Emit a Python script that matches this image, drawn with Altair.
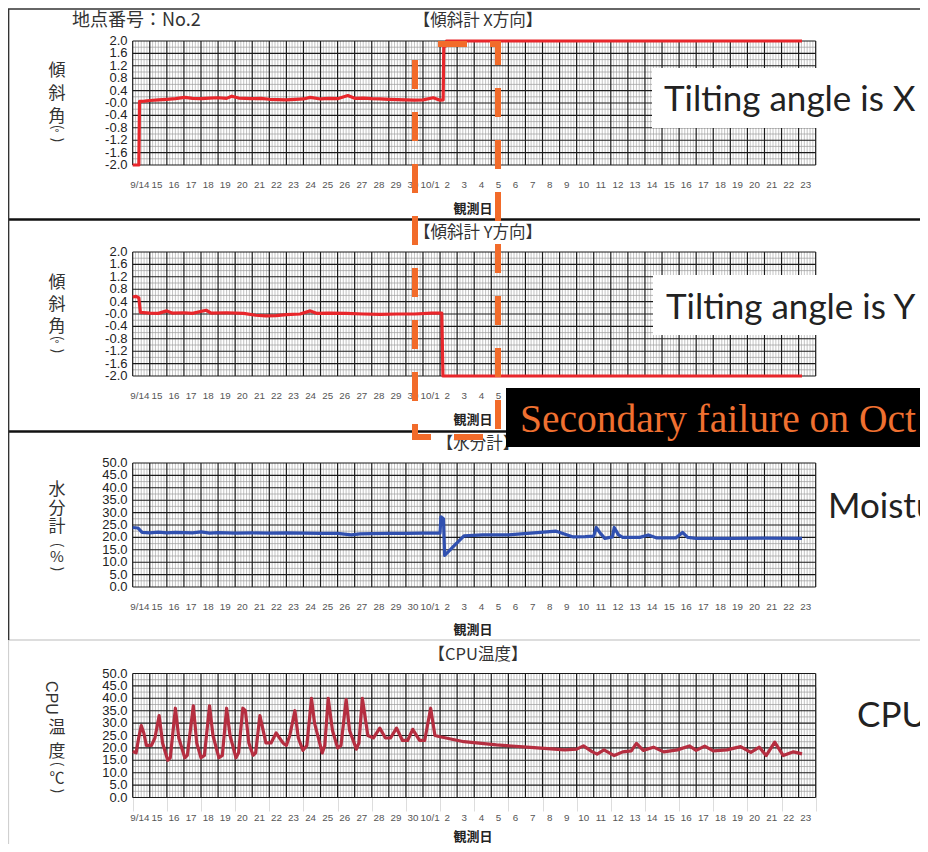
import altair as alt
import pandas as pd

# ---------------- data ----------------
DAY_LABELS = (["9/14"] + [str(d) for d in range(15, 31)] + ["10/1"]
              + [str(d) for d in range(2, 24)])

TILT_TICKS = [2.0, 1.6, 1.2, 0.8, 0.4, 0.0, -0.4, -0.8, -1.2, -1.6, -2.0]
TILT_LABELS = ["2.0", "1.6", "1.2", "0.8", "0.4", "-0.0", "-0.4", "-0.8", "-1.2", "-1.6", "-2.0"]
PCT_TICKS = [50, 45, 40, 35, 30, 25, 20, 15, 10, 5, 0]
PCT_LABELS = ["50.0", "45.0", "40.0", "35.0", "30.0", "25.0", "20.0", "15.0", "10.0", "5.0", "0.0"]

# (day offset from 9/14 00:00, value)
X_TILT = [(0.0, -2.0), (0.36, -2.0), (0.40, 0.05), (0.7, 0.06), (1.0, 0.08), (1.5, 0.10),
          (2.0, 0.12), (2.5, 0.14), (3.05, 0.18), (3.5, 0.15), (4.0, 0.14), (4.5, 0.16),
          (5.0, 0.17), (5.5, 0.15), (5.8, 0.22), (6.2, 0.16), (7.0, 0.14), (7.5, 0.15),
          (8.0, 0.12), (8.5, 0.11), (9.0, 0.10), (9.5, 0.12), (10.0, 0.13), (10.4, 0.18),
          (11.0, 0.13), (11.5, 0.15), (12.0, 0.14), (12.6, 0.24), (13.0, 0.15), (13.5, 0.16),
          (14.0, 0.14), (14.5, 0.13), (15.0, 0.12), (15.5, 0.11), (16.0, 0.10), (16.5, 0.09),
          (17.0, 0.10), (17.6, 0.17), (18.0, 0.09), (18.18, 0.10), (18.22, 1.82), (18.33, 1.84),
          (18.38, 2.0), (25.0, 2.0), (32.0, 2.0), (39.2, 2.0)]

Y_TILT = [(0.0, 0.55), (0.2, 0.57), (0.36, 0.52), (0.45, 0.05), (1.0, 0.03), (1.5, 0.02),
          (2.0, 0.10), (2.3, 0.03), (3.0, 0.04), (3.5, 0.02), (4.3, 0.12), (4.6, 0.03),
          (5.5, 0.04), (6.5, 0.02), (7.2, -0.04), (7.8, -0.06), (8.4, -0.05), (9.0, -0.02),
          (9.8, 0.0), (10.4, 0.10), (10.8, 0.02), (11.5, 0.03), (12.5, 0.02), (13.5, 0.0),
          (14.5, -0.01), (15.5, 0.0), (16.5, 0.0), (17.5, 0.03), (18.1, 0.03), (18.17, -2.0),
          (39.2, -2.0)]

MOISTURE = [(0.0, 24.0), (0.3, 23.8), (0.55, 22.0), (1.0, 21.8), (1.5, 22.1), (2.0, 21.8),
            (2.5, 22.0), (3.0, 21.9), (3.5, 21.8), (4.0, 22.2), (4.5, 21.7), (5.0, 21.9),
            (5.5, 21.8), (6.0, 21.7), (7.0, 21.8), (8.0, 21.7), (9.0, 21.8), (10.0, 21.7),
            (11.0, 21.6), (12.0, 21.6), (12.8, 21.0), (13.3, 21.4), (14.0, 21.5), (15.0, 21.6),
            (16.0, 21.6), (17.0, 21.7), (18.0, 21.7), (18.05, 28.3), (18.2, 27.5), (18.27, 12.7),
            (18.8, 16.5), (19.4, 20.6), (20.5, 21.0), (22.0, 21.0), (23.5, 21.8), (24.8, 22.5),
            (25.8, 20.2), (26.5, 20.3), (27.0, 20.5), (27.15, 24.0), (27.35, 22.0), (27.65, 19.6),
            (28.1, 20.2), (28.2, 24.0), (28.45, 21.0), (28.7, 20.0), (29.7, 20.0), (30.2, 21.0),
            (30.7, 19.8), (31.8, 19.8), (32.2, 22.0), (32.5, 20.0), (33.0, 19.6), (35.0, 19.6),
            (37.0, 19.7), (39.2, 19.6)]

CPU_TEMP = [(0.0, 18.5), (0.2, 18.0), (0.35, 24.0), (0.5, 29.0), (0.65, 26.0), (0.8, 21.0),
            (1.1, 21.0), (1.3, 24.0), (1.55, 33.0), (1.75, 22.0), (2.05, 15.0), (2.2, 16.0),
            (2.5, 36.0), (2.7, 24.0), (3.05, 16.0), (3.2, 17.0), (3.55, 37.0), (3.75, 22.0),
            (4.0, 16.0), (4.2, 17.0), (4.5, 37.0), (4.7, 25.0), (5.05, 16.0), (5.25, 17.0),
            (5.5, 36.0), (5.7, 25.0), (6.05, 16.0), (6.2, 18.0), (6.45, 36.0), (6.6, 35.0),
            (6.8, 22.0), (7.05, 17.0), (7.2, 18.0), (7.45, 33.0), (7.8, 22.0), (8.1, 22.0),
            (8.4, 26.0), (8.8, 22.0), (9.0, 21.0), (9.2, 25.0), (9.5, 35.0), (9.7, 24.0),
            (9.97, 19.0), (10.2, 21.0), (10.47, 40.0), (10.65, 30.0), (11.1, 18.0), (11.25, 21.0),
            (11.45, 40.0), (11.7, 27.0), (12.0, 20.0), (12.2, 21.0), (12.5, 39.5), (12.7, 27.0),
            (13.1, 19.5), (13.25, 22.0), (13.45, 40.0), (13.77, 25.0), (14.1, 24.0), (14.47, 28.0),
            (14.8, 24.0), (15.1, 24.0), (15.45, 28.0), (15.8, 23.0), (16.1, 23.0), (16.4, 27.5),
            (16.8, 23.0), (17.1, 23.0), (17.45, 36.0), (17.7, 25.0), (18.0, 24.5), (19.4, 22.5),
            (21.3, 21.2), (23.3, 20.2), (25.3, 19.2), (26.0, 19.5), (26.4, 20.8), (26.9, 18.5),
            (27.2, 17.5), (27.6, 19.2), (28.2, 16.9), (28.7, 18.4), (29.2, 18.8), (29.5, 21.8),
            (29.9, 19.0), (30.5, 20.3), (31.1, 18.4), (31.9, 19.2), (32.6, 20.8), (33.0, 19.0),
            (33.5, 20.7), (34.0, 18.8), (34.8, 19.2), (35.6, 20.5), (36.2, 18.2), (36.7, 20.3),
            (37.1, 16.9), (37.6, 22.3), (38.1, 16.9), (38.7, 18.4), (39.2, 17.6)]

# ---------------- layout ----------------
OFF = 8
def px(v):
    return v - OFF

JP = "Noto Sans CJK JP"
NUM = "Liberation Sans"
LAT = "Lato"

NDAYS = len(DAY_LABELS)
XS = alt.Scale(domain=[0, NDAYS], range=[px(132.7), px(815.7)], nice=False, zero=False)

PANELS = [
    dict(top=41, bot=165, ticks=TILT_TICKS, labels=TILT_LABELS, series=X_TILT, color="#E8262B",
         title="【傾斜計 X方向】", title_y=21, xlab_y=185, obs_y=209, lab_max=NDAYS),
    dict(top=252, bot=376, ticks=TILT_TICKS, labels=TILT_LABELS, series=Y_TILT, color="#E8262B",
         title="【傾斜計 Y方向】", title_y=233, xlab_y=396, obs_y=420, lab_max=22),
    dict(top=463, bot=587, ticks=PCT_TICKS, labels=PCT_LABELS, series=MOISTURE, color="#3050B0",
         title="【水分計】", title_y=444, xlab_y=607, obs_y=630, lab_max=NDAYS),
    dict(top=673.5, bot=797.5, ticks=PCT_TICKS, labels=PCT_LABELS, series=CPU_TEMP, color="#B52E40",
         title="【CPU温度】", title_y=655, xlab_y=818, obs_y=837, lab_max=NDAYS),
]

one = pd.DataFrame({"a": [0]})


def txt(s, x, y, size, font=JP, color="#222", align="center", baseline="middle", **kw):
    return alt.Chart(one).mark_text(text=s, font=font, fontSize=size, color=color,
                                    align=align, baseline=baseline, **kw).encode(
        x=alt.value(px(x)), y=alt.value(px(y)))


def box(x1, x2, y1, y2, color):
    return alt.Chart(one).mark_rect(color=color).encode(
        x=alt.value(px(x1)), x2=alt.value(px(x2)), y=alt.value(px(y1)), y2=alt.value(px(y2)))


def hline(y, x1, x2, color, w):
    return alt.Chart(one).mark_rule(color=color, strokeWidth=w).encode(
        x=alt.value(px(x1)), x2=alt.value(px(x2)), y=alt.value(px(y)))


def vline(x, y1, y2, color, w):
    return alt.Chart(one).mark_rule(color=color, strokeWidth=w).encode(
        x=alt.value(px(x)), y=alt.value(px(y1)), y2=alt.value(px(y2)))


def vtitle(kanji, top, step, paren_mid, ytop_paren, ybot_paren, mid_size=11, ksize=17):
    """Vertical (tategaki style) axis title."""
    out = []
    for i, ch in enumerate(kanji):
        out.append(txt(ch, 57, top + i * step, ksize, color="#333"))
    out.append(txt("(", 57, ytop_paren, 14, color="#333", angle=90))
    out.append(txt(paren_mid, 57, (ytop_paren + ybot_paren) / 2, mid_size, color="#333"))
    out.append(txt(")", 57, ybot_paren, 14, color="#333", angle=90))
    return out


minor_t = [d + k / 6 for d in range(NDAYS) for k in range(1, 6)]
major_t = list(range(NDAYS + 1))

layers = []
for P in PANELS:
    ticks = P["ticks"]
    lo, hi = min(ticks), max(ticks)
    ys = alt.Scale(domain=[lo, hi], range=[px(P["bot"]), px(P["top"])], nice=False, zero=False)
    mids = [(ticks[i] + ticks[i + 1]) / 2 for i in range(len(ticks) - 1)]

    layers.append(alt.Chart(pd.DataFrame({"t": minor_t})).mark_rule(color="#9c9c9c", strokeWidth=0.6).encode(
        x=alt.X("t:Q", scale=XS), y=alt.YDatum(hi, scale=ys, type="quantitative"), y2=alt.Y2Datum(lo)))
    layers.append(alt.Chart(pd.DataFrame({"v": mids})).mark_rule(color="#9c9c9c", strokeWidth=0.7).encode(
        y=alt.Y("v:Q", scale=ys), x=alt.XDatum(0, scale=XS, type="quantitative"), x2=alt.X2Datum(NDAYS)))
    layers.append(alt.Chart(pd.DataFrame({"v": ticks})).mark_rule(color="#1a1a1a", strokeWidth=1.1).encode(
        y=alt.Y("v:Q", scale=ys), x=alt.XDatum(0, scale=XS, type="quantitative"), x2=alt.X2Datum(NDAYS)))
    layers.append(alt.Chart(pd.DataFrame({"t": major_t})).mark_rule(color="#1a1a1a", strokeWidth=1.2).encode(
        x=alt.X("t:Q", scale=XS), y=alt.YDatum(hi, scale=ys, type="quantitative"), y2=alt.Y2Datum(lo)))
    sdf = pd.DataFrame(P["series"], columns=["t", "v"])
    layers.append(alt.Chart(sdf).mark_line(color=P["color"], strokeWidth=3.2, strokeJoin="round").encode(
        x=alt.X("t:Q", scale=XS), y=alt.Y("v:Q", scale=ys)))
    ldf = pd.DataFrame({"v": ticks, "lab": P["labels"]})
    layers.append(alt.Chart(ldf).mark_text(align="right", baseline="middle", font=NUM, fontSize=13,
                                           color="#222").encode(
        y=alt.Y("v:Q", scale=ys), x=alt.value(px(127.5)), text="lab:N"))
    # day labels (those hidden behind the black caption box in panel 2 are not drawn)
    xlab_df = pd.DataFrame({"p": [i + 0.42 for i in range(NDAYS)], "lab": DAY_LABELS})
    xlab_df = xlab_df[xlab_df["p"] < P["lab_max"]]
    layers.append(alt.Chart(xlab_df).mark_text(align="center", baseline="middle", font=NUM, fontSize=9.8,
                                               color="#555").encode(
        x=alt.X("p:Q", scale=XS), y=alt.value(px(P["xlab_y"])), text="lab:N"))
    layers.append(txt(P["title"], 478, P["title_y"], 16.5, color="#333"))
    layers.append(txt("観測日", 473, P["obs_y"], 13, color="#222", fontWeight="bold"))

# y-axis titles (vertical)
layers += vtitle(["傾", "斜", "角"], 71, 23, "°", 127, 140, mid_size=12)
layers += vtitle(["傾", "斜", "角"], 283, 22, "°", 338, 351, mid_size=12)
layers += vtitle(["水", "分", "計"], 490, 18.5, "%", 545, 569, mid_size=15)
layers.append(txt("CPU", 51, 698, 16, font=NUM, angle=90, color="#333"))
layers += vtitle(["温", "度"], 728, 24, "℃", 764, 791, mid_size=15)

layers.append(txt("地点番号：No.2", 72, 21, 18, align="left", color="#333"))

# panel frames
layers.append(hline(9, 8, 928, "#333", 1.5))
layers.append(hline(219.5, 8, 928, "#111", 2.5))
layers.append(hline(431.5, 8, 928, "#111", 2.5))
layers.append(hline(640, 8, 928, "#bbbbbb", 1))
layers.append(vline(8.6, 9, 640, "#333", 1.5))
layers.append(vline(8.6, 640, 852, "#cccccc", 1))

# annotation overlays
layers.append(box(652, 930, 68, 128, "white"))
layers.append(txt("Tilting angle is X", 664, 111, 35, font=LAT, color="#222", align="left",
                  baseline="alphabetic"))
layers.append(box(653, 930, 275, 335, "white"))
layers.append(txt("Tilting angle is Y", 666, 319, 35, font=LAT, color="#222", align="left",
                  baseline="alphabetic"))
layers.append(txt("Moistu", 828, 518, 35, font=LAT, color="#222", align="left", baseline="alphabetic"))
layers.append(txt("CPU", 857, 727, 35, font=LAT, color="#222", align="left", baseline="alphabetic"))

layers.append(alt.Chart(one).mark_rect(fillOpacity=0, stroke="#F26B2A", strokeWidth=6,
                                      strokeDash=[29, 23], strokeDashOffset=29).encode(
    x=alt.value(px(415)), x2=alt.value(px(498)), y=alt.value(px(44)), y2=alt.value(px(437))))

layers.append(box(506, 930, 388, 447, "black"))
layers.append(txt("Secondary failure on Oct 2", 520, 432, 39.5, font="Liberation Serif",
                  color="#F07030", align="left", baseline="alphabetic"))

chart = alt.layer(*layers).resolve_scale(y="independent").properties(
    width=912, height=836, padding=0, background="white",
    autosize=alt.AutoSizeParams(type="none"),
).configure_view(stroke=None)

chart.save("out.html", embed_options={"renderer": "svg", "actions": False})
